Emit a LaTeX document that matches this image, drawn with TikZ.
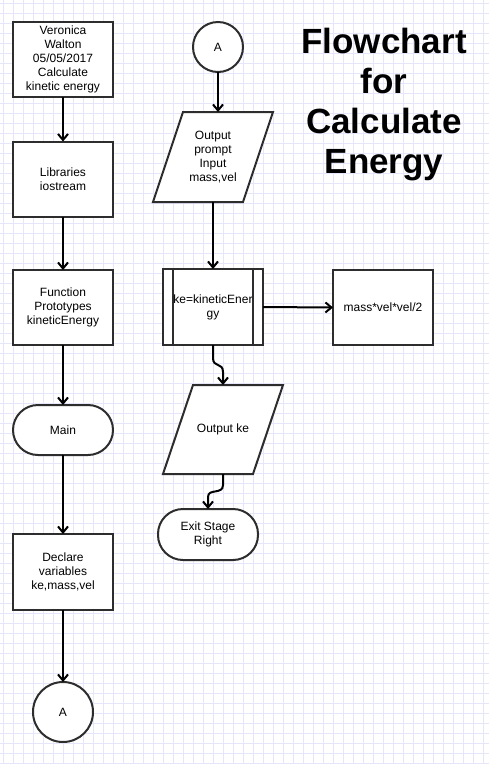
\documentclass[tikz,border=0pt]{standalone}
\usepackage{fontspec}
\setmainfont{Liberation Sans}
\usetikzlibrary{arrows.meta}
\definecolor{gridc}{RGB}{230,230,250}
\definecolor{borderc}{RGB}{45,45,45}
\newcommand\boxfont{\fontsize{12}{14}\selectfont}
\newcommand\titlefont{\fontsize{35}{40}\selectfont\bfseries}
\pgfdeclarelayer{gridlayer}
\pgfdeclarelayer{shapelayer}
\pgfsetlayers{gridlayer,shapelayer,main}
\begin{document}
\begin{tikzpicture}[x=1pt,y=-1pt,
  every node/.style={inner sep=0pt,outer sep=0pt},
  gridline/.style={draw=gridc,line width=0.8pt},
  shapeline/.style={draw=borderc,line width=2pt},
  box/.style={shapeline,fill=white,minimum width=100pt,minimum height=75pt,align=center,font=\boxfont},
  term/.style={box,minimum height=50pt,rounded corners=25pt},
  conn/.style={shapeline,fill=white,circle,font=\boxfont},
  iotext/.style={minimum width=120pt,minimum height=90pt,align=center,font=\boxfont},
  arr/.style={draw=black,line width=2pt,-{Straight Barb[length=6pt,width=10pt]}}]
\useasboundingbox (0,0) rectangle (489,764);
\begin{pgfonlayer}{gridlayer}
\fill[white] (0,0) rectangle (489,764);
\foreach \k in {3,13,...,483} \draw[gridline] (\k,0) -- (\k,764);
\foreach \k in {3,13,...,763} \draw[gridline] (0,\k) -- (489,\k);
\end{pgfonlayer}

% left column
\node[box] (v1) at (63,59.5) {Veronica\\Walton\\05/05/2017\\Calculate\\kinetic energy};
\node[box] (lib) at (63,179) {Libraries\\iostream};
\node[box] (fn) at (63,307.5) {Function\\Prototypes\\kineticEnergy};
\node[term] (main) at (63,430) {Main};
\node[box,minimum height=76pt] (decl) at (63,572) {Declare\\variables\\ke,mass,vel};
\node[conn,minimum size=60pt] (a1) at (63,712) {A};

% middle column
\node[conn,minimum size=50pt] (a2) at (218,47) {A};
\node[iotext] (io1) at (213,157) {Output\\prompt\\Input\\mass,vel};
\node[box,minimum height=76pt] (sub) at (213,307) {ke=kineticEner\\gy};
\draw[shapeline] ([xshift=10pt]sub.north west) -- ([xshift=10pt]sub.south west);
\draw[shapeline] ([xshift=-10pt]sub.north east) -- ([xshift=-10pt]sub.south east);
\node[box] (calc) at (383,307.5) {mass*vel*vel/2};
\node[iotext,minimum height=89pt] (io2) at (223,429.5) {Output ke};
\node[term,minimum height=51pt] (exit) at (208,534.5) {Exit Stage\\Right};

\begin{pgfonlayer}{shapelayer}
\draw[shapeline,fill=white] ([xshift=30pt]io1.north west) -- (io1.north east) -- ([xshift=-30pt]io1.south east) -- (io1.south west) -- cycle;
\draw[shapeline,fill=white] ([xshift=30pt]io2.north west) -- (io2.north east) -- ([xshift=-30pt]io2.south east) -- (io2.south west) -- cycle;
\end{pgfonlayer}

% title
\node[font=\titlefont,align=center] (title) at (384,105) {Flowchart\\for\\Calculate\\Energy};

% connectors
\draw[arr] (v1.south) -- (lib.north);
\draw[arr] (lib.south) -- (fn.north);
\draw[arr] (fn.south) -- (main.north);
\draw[arr] (main.south) -- (decl.north);
\draw[arr] (decl.south) -- (a1.north);
\draw[arr] (a2.south) -- (a2.south |- io1.north);
\draw[arr] (io1.south) -- (sub.north);
\draw[arr] (sub.east) -- (calc.west);
\draw[arr] (sub.south) -- ([yshift=-13pt]sub.south) .. controls ([yshift=-23pt]sub.south) and ([yshift=23pt]io2.north) .. ([yshift=13pt]io2.north) -- (io2.north);
\draw[arr] (io2.south) -- ([yshift=-11pt]io2.south) .. controls ([yshift=-21pt]io2.south) and ([yshift=21pt]exit.north) .. ([yshift=12pt]exit.north) -- (exit.north);
\end{tikzpicture}
\end{document}
